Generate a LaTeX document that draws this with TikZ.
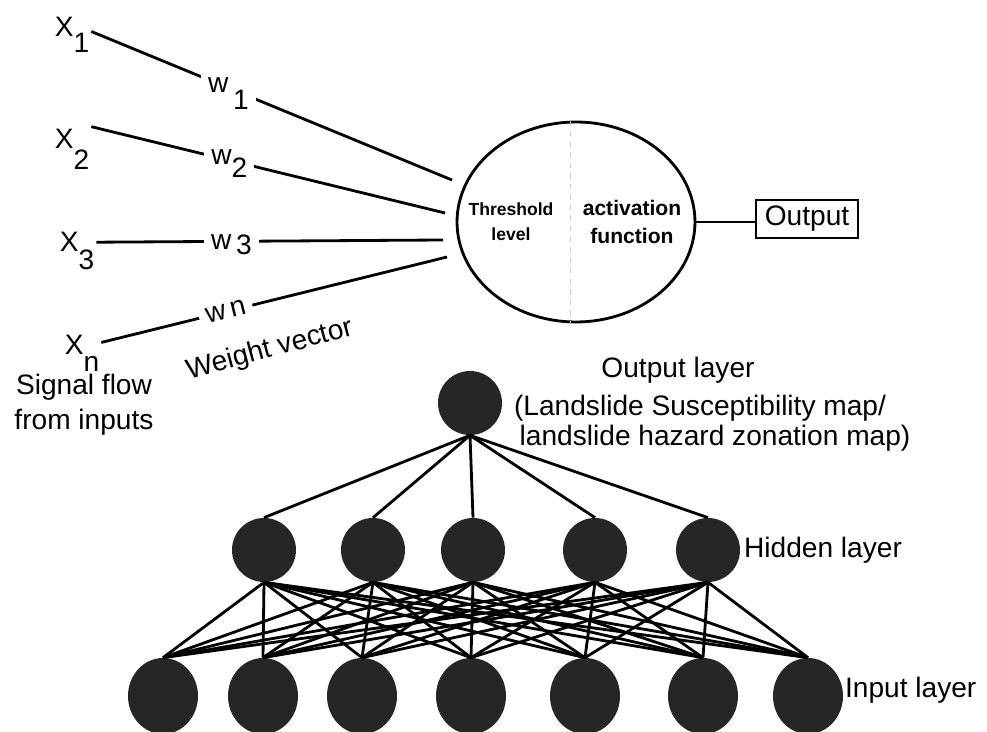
\documentclass[tikz,border=0pt]{standalone}
\usepackage{fontspec}
\setmainfont{Liberation Sans}
\usetikzlibrary{shapes.geometric}

\begin{document}
\begin{tikzpicture}[x=0.02cm,y=-0.02cm,
  txt/.style={font=\fontsize{16}{19}\selectfont,inner sep=1pt},
  wlabel/.style={font=\fontsize{16}{19}\selectfont,fill=white,inner sep=4pt},
  link/.style={line width=1.6pt},
  unit/.style={circle,fill=black!85,minimum size=1.28cm,inner sep=0pt},
  inunit/.style={ellipse,fill=black!85,minimum width=1.4cm,minimum height=1.52cm,inner sep=0pt}]
  \useasboundingbox (0,0) rectangle (987,732);

  % single neuron
  \node[txt] (x1) at (72,35) {X\raisebox{-0.55em}{1}};
  \node[txt] (x2) at (72,149) {X\raisebox{-0.75em}{2}};
  \node[txt] (x3) at (77,251) {X\raisebox{-0.65em}{3}};
  \node[txt] (xn) at (82,353) {X\raisebox{-0.6em}{n}};
  \node[draw,ellipse,line width=1.6pt,minimum width=4.76cm,minimum height=4cm] (neuron) at (576,222) {};
  \draw[gray!40,dashed,line width=0.8pt] ([xshift=-3pt]neuron.north) -- ([xshift=-3pt]neuron.south);
  \coordinate (c1) at (452,180);
  \coordinate (c2) at (445,213);
  \coordinate (c3) at (443,240);
  \coordinate (c4) at (447,257);
  \draw[link] ([yshift=2pt]x1.east) -- node[wlabel,pos=0.38,yshift=-3pt] {w\,\raisebox{-0.6em}{1}} (c1);
  \draw[link] (x2.north east) -- node[wlabel,pos=0.39,yshift=-2pt] {w\raisebox{-0.45em}{2}} (c2);
  \draw[link] ([yshift=5pt]x3.east) -- node[wlabel,pos=0.39,yshift=-2pt] {w\,\raisebox{-0.2em}{3}} (c3);
  \draw[link] ([yshift=6pt]xn.east) -- node[wlabel,pos=0.36,sloped] {w\,n} (c4);
  \node[font=\fontsize{10}{14}\selectfont\bfseries,align=center] (thr) at (511,222) {Threshold\\level};
  \node[font=\fontsize{12}{16}\selectfont\bfseries,align=center] (act) at (632,222) {activation\\function};
  \node[txt,draw,line width=1.3pt,minimum width=2.04cm,minimum height=0.76cm] (out) at (807,219) {Output};
  \draw[link] (neuron.east) -- (neuron.east -| out.west);
  \node[txt,align=center,font=\fontsize{16}{20}\selectfont] (signal) at (84,405) {Signal flow\\from inputs};
  \node[txt,rotate=15] (weight) at (270,350) {Weight vector};

  % network
  \node[unit] (o) at (470,403) {};
  \foreach \i/\x in {1/264,2/373,3/473,4/595,5/708}
    \node[unit] (h\i) at (\x,550) {};
  \foreach \j/\x in {1/163,2/263,3/362,4/471,5/585,6/703,7/808}
    \node[inunit] (in\j) at (\x,696) {};
  \foreach \i in {1,...,5}
    \draw[link] (o.south) -- (h\i.north);
  \foreach \i in {1,...,5}
    \foreach \j in {1,...,7}
      \draw[link] (h\i.south) -- (in\j.north);
  \node[txt] (olabel) at (678,370) {Output layer};
  \node[txt,anchor=west,align=left,font=\fontsize{16}{17}\selectfont] (maplabel) at (512,423) {(Landslide Susceptibility map/\\\hspace*{0.2em}landslide hazard zonation map)};
  \node[txt,anchor=west] (hlabel) at (742,550) {Hidden layer};
  \node[txt,anchor=west] (ilabel) at (843,690) {Input layer};
\end{tikzpicture}
\end{document}
